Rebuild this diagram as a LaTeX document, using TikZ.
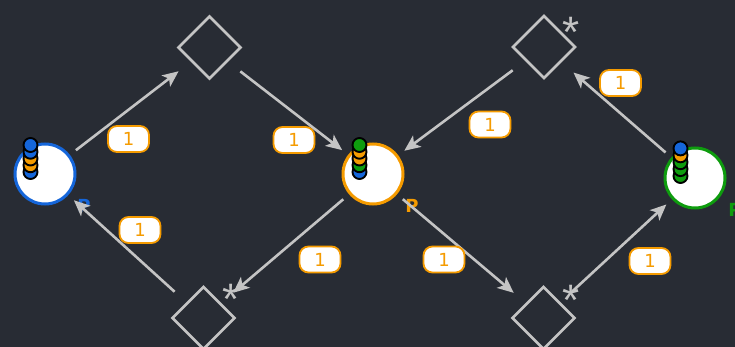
\documentclass[tikz,border=0pt]{standalone}
\usepackage{fontspec}
\setmainfont{DejaVu Sans}
\newfontfamily\starfont{Liberation Sans}
\usetikzlibrary{shapes.geometric,arrows.meta}

\definecolor{bg}{HTML}{282C34}
\definecolor{edge}{HTML}{C4C4C4}
\definecolor{tokblue}{HTML}{1566DA}
\definecolor{tokorange}{HTML}{F59B00}
\definecolor{tokgreen}{HTML}{0E9C0E}

\tikzset{
  place/.style={circle, draw=#1, fill=white, line width=3pt,
                minimum size=60pt, inner sep=0pt},
  trans/.style={diamond, draw=edge, line width=2.6pt, aspect=1,
                minimum size=63pt, inner sep=0pt},
  arc/.style={draw=edge, line width=2.6pt,
              -{Stealth[length=16pt,width=14pt,inset=4pt]},
              shorten <=39pt, shorten >=39pt},
  weight/.style={draw=tokorange, fill=white, text=tokorange, line width=1.8pt,
                 rounded corners=9pt, minimum width=41pt, minimum height=26pt,
                 inner sep=0pt, font=\fontsize{18}{18}\selectfont},
  plabel/.style={text=#1, font=\bfseries\fontsize{18}{18}\selectfont, inner sep=0pt},
  token/.style={circle, draw=black, fill=#1, line width=1.9pt,
                minimum size=14pt, inner sep=0pt},
  starlabel/.style={text=edge, anchor=north, inner sep=0pt,
                    font=\starfont\fontsize{44}{44}\selectfont}
}

\begin{document}
\begin{tikzpicture}[x=1pt,y=-1pt]
  % canvas
  \fill[bg] (0,0) rectangle (735,347);
  \useasboundingbox (0,0) rectangle (735,347);

  % place labels (underneath the arcs)
  \node[plabel=tokblue]   (lL) at (84,206) {P};
  \node[plabel=tokorange] (lM) at (412,206) {P};
  \node[plabel=tokgreen]  (lR) at (735,210) {P};

  % places
  \node[place=tokblue]   (pL) at (45,174) {};
  \node[place=tokorange] (pM) at (373,174) {};
  \node[place=tokgreen]  (pR) at (695,178) {};

  % transitions
  \node[trans] (tTL) at (209.5,47.5) {};
  \node[trans] (tTR) at (544,47) {};
  \node[trans] (tBL) at (203.5,318) {};
  \node[trans] (tBR) at (543.5,318) {};

  % transition marks
  \node[starlabel] (sTR) at (571.5,17) {*};
  \node[starlabel] (sBL) at (231,284) {*};
  \node[starlabel] (sBR) at (571.5,285) {*};

  % arcs
  \draw[arc] (pL.center) -- (tTL.center);
  \draw[arc] (tTL.center) -- (pM.center);
  \draw[arc] (tTR.center) -- (pM.center);
  \draw[arc] (pR.center) -- (tTR.center);
  \draw[arc] (pM.center) -- (tBL.center);
  \draw[arc] (tBL.center) -- (pL.center);
  \draw[arc] (pM.center) -- (tBR.center);
  \draw[arc] (tBR.center) -- (pR.center);

  % arc weights
  \node[weight] (w1) at (128.5,139) {1};
  \node[weight] (w2) at (294,140) {1};
  \node[weight] (w3) at (490,124.5) {1};
  \node[weight] (w4) at (620.5,83) {1};
  \node[weight] (w5) at (140,230) {1};
  \node[weight] (w6) at (320,259.5) {1};
  \node[weight] (w7) at (444,259.5) {1};
  \node[weight] (w8) at (650,261) {1};

  % token stacks, drawn bottom first so upper tokens overlap
  \foreach \c [count=\i from 0] in {tokblue,tokorange,tokorange,tokblue,tokblue}
    \node[token=\c] (kL\i) at (30.5,172-6.75*\i) {};
  \foreach \c [count=\i from 0] in {tokblue,tokgreen,tokorange,tokorange,tokgreen}
    \node[token=\c] (kM\i) at (359.5,172-6.75*\i) {};
  \foreach \c [count=\i from 0] in {tokgreen,tokgreen,tokgreen,tokorange,tokblue}
    \node[token=\c] (kR\i) at (680.5,176-6.9*\i) {};
\end{tikzpicture}
\end{document}
